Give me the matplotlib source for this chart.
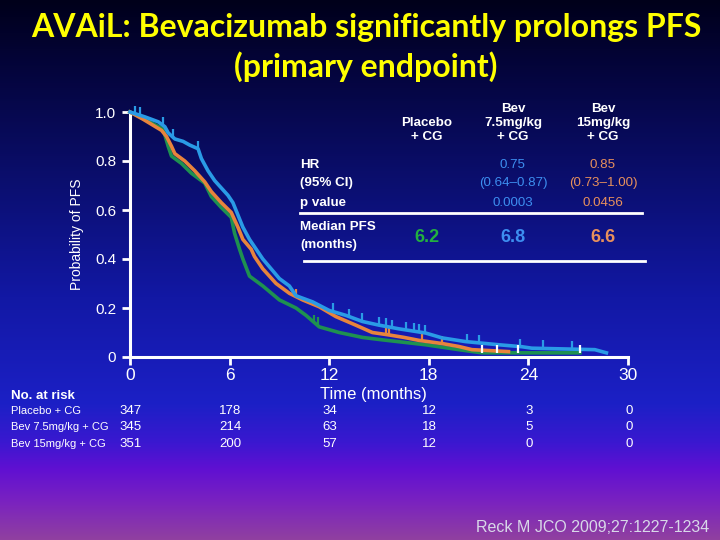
import matplotlib
matplotlib.use("Agg")
import matplotlib.pyplot as plt
import numpy as np
from matplotlib.colors import LinearSegmentedColormap
from matplotlib.transforms import blended_transform_factory
from matplotlib.path import Path

# KM curves (months, probability of PFS)
bev75_t = [0, 0.9, 1.7, 2.1, 2.3, 2.7, 3.2, 3.6, 4.1, 4.3, 4.7, 5.1, 5.5, 5.9, 6.2, 6.5,
           6.8, 7.2, 7.5, 8.0, 8.5, 9.0, 9.6, 10.0, 11.0, 12.0, 13.0, 14.0, 15.0, 16.2,
           17.8, 18.8, 20.2, 22.2, 23.6, 24.2, 28.0, 28.7]
bev75_s = [1.0, 0.98, 0.96, 0.94, 0.915, 0.89, 0.88, 0.865, 0.85, 0.81, 0.76, 0.72, 0.69,
           0.66, 0.63, 0.58, 0.53, 0.48, 0.45, 0.40, 0.36, 0.32, 0.29, 0.25, 0.225, 0.19,
           0.17, 0.145, 0.13, 0.115, 0.098, 0.078, 0.063, 0.05, 0.042, 0.036, 0.03, 0.017]

bev15_t = [0, 0.8, 1.9, 2.2, 2.5, 2.7, 3.3, 3.9, 4.5, 4.9, 5.5, 6.1, 6.5, 6.8, 7.3, 7.5,
           8.0, 8.8, 9.6, 10.4, 11.4, 12.4, 13.6, 14.6, 15.6, 16.5, 17.4, 18.8, 19.8,
           20.6, 22.8]
bev15_s = [1.0, 0.97, 0.925, 0.90, 0.86, 0.83, 0.80, 0.76, 0.715, 0.675, 0.63, 0.59, 0.53,
           0.48, 0.44, 0.41, 0.36, 0.30, 0.26, 0.233, 0.205, 0.165, 0.13, 0.10, 0.09,
           0.08, 0.068, 0.055, 0.043, 0.03, 0.022]

plac_t = [0, 0.6, 1.3, 2.0, 2.3, 2.5, 3.1, 3.7, 4.5, 4.9, 5.5, 6.1, 6.3, 6.6, 6.8, 7.2,
          8.0, 9.0, 10.0, 10.6, 11.4, 12.6, 14.0, 15.2, 17.8, 19.8, 21.2, 27.1]
plac_s = [1.0, 0.98, 0.955, 0.93, 0.86, 0.82, 0.79, 0.75, 0.71, 0.655, 0.61, 0.57, 0.505,
          0.44, 0.40, 0.33, 0.29, 0.233, 0.20, 0.17, 0.123, 0.10, 0.08, 0.07, 0.05, 0.03,
          0.017, 0.017]

# censored observations
bev75_cens = [0.3, 0.6, 2.0, 2.6, 4.1, 12.2, 13.2, 14.0, 15.0, 15.4, 15.8, 16.6, 17.1,
              17.4, 17.8, 20.3, 21.0, 23.5, 24.9, 26.6]
bev15_cens = [10.0, 15.4, 15.6, 17.6, 18.8]
plac_cens = [11.1, 11.3]
white_cens = [21.2, 22.1, 23.4, 27.1]

xticks = [0, 6, 12, 18, 24, 30]
yticks = [0, 0.2, 0.4, 0.6, 0.8, 1.0]
ytick_labels = ["0", "0.2", "0.4", "0.6", "0.8", "1.0"]

risk_rows = ["Placebo + CG", "Bev 7.5mg/kg + CG", "Bev 15mg/kg + CG"]
risk_plac = [347, 178, 34, 12, 3, 0]
risk_bev75 = [345, 214, 63, 18, 5, 0]
risk_bev15 = [351, 200, 57, 12, 0, 0]

col_heads = ["Placebo\n+ CG", "Bev\n7.5mg/kg\n+ CG", "Bev\n15mg/kg\n+ CG"]
hr_vals = ["", "0.75", "0.85"]
ci_vals = ["", "(0.64\u20130.87)", "(0.73\u20131.00)"]
p_vals = ["", "0.0003", "0.0456"]
median_pfs = ["6.2", "6.8", "6.6"]

c_green = "#1e9150"
c_blue = "#2a9be6"
c_orange = "#e8843c"
c_blue_txt = "#3d8ef0"
c_orange_txt = "#e8905c"
c_green_txt = "#22b040"

W, H = 720, 540
fig = plt.figure(figsize=(7.2, 5.4), dpi=100)

def fx(px):
    return px / W

def fy(py):
    return 1 - py / H

# background gradient
bg = fig.add_axes([0, 0, 1, 1], zorder=-10)
cmap = LinearSegmentedColormap.from_list("bg", [
    (0.0, "#00001a"), (0.12, "#04043a"), (0.35, "#0b0f72"), (0.55, "#1218a4"),
    (0.75, "#1c20c6"), (0.82, "#3a18d0"), (0.87, "#6010d2"), (0.93, "#7a22c0"),
    (1.0, "#9040a0")])
grad = np.linspace(0, 1, 256).reshape(-1, 1)
bg.imshow(grad, aspect="auto", cmap=cmap, extent=[0, 1, 0, 1], origin="upper")
bg.axis("off")

# title
fig.text(fx(366), fy(28), "AVAiL: Bevacizumab significantly prolongs PFS",
         color="#ffff00", fontsize=23, fontweight="bold", family="Lato",
         ha="center", va="center")
fig.text(fx(366), fy(67), "(primary endpoint)", color="#ffff00", fontsize=23,
         fontweight="bold", family="Lato", ha="center", va="center")

# main axes
ax = fig.add_axes([fx(130), fy(357), fx(628) - fx(130), fy(112) - fy(357)])
ax.set_facecolor("none")
ax.set_xlim(0, 30)
ax.set_ylim(0, 1)
for side in ["top", "right"]:
    ax.spines[side].set_visible(False)
for side in ["left", "bottom"]:
    ax.spines[side].set_color("white")
    ax.spines[side].set_linewidth(2.2)
ax.set_xticks(xticks)
ax.set_yticks(yticks)
ax.set_yticklabels(ytick_labels)
ax.tick_params(colors="white", width=2, length=6, direction="out")
ax.tick_params(axis="x", labelsize=12.5, pad=2)
ax.tick_params(axis="y", labelsize=11, pad=4)
for lab in ax.get_xticklabels() + ax.get_yticklabels():
    lab.set_family("Liberation Sans")
ax.set_ylabel("Probability of PFS", color="white", fontsize=10,
              family="Liberation Sans", labelpad=8)

up_tick = Path([(0, 0), (0, 1)], [Path.MOVETO, Path.LINETO])

def km(t, s, cens, color, z, cens_color=None, line=True):
    if line:
        ax.plot(t, s, color=color, lw=2.6, zorder=z, clip_on=False)
    if cens:
        cy = np.interp(cens, t, s)
        ax.plot(cens, cy, ls="none", marker=up_tick, markersize=12,
                markeredgewidth=1.6, color=cens_color or color, zorder=z,
                clip_on=False)

km(plac_t, plac_s, plac_cens, c_green, 3)
km(bev15_t, bev15_s, bev15_cens, c_orange, 4)
km(bev75_t, bev75_s, bev75_cens, c_blue, 5)
km(plac_t, plac_s, white_cens, c_green, 6, cens_color="white", line=False)

# x-axis title
fig.text(fx(373), fy(395), "Time (months)", color="white", fontsize=12,
         family="Liberation Sans", ha="center", va="center")

# table inside the plot
fs_tab = 9.6
col_x = [427, 513, 603]
for x, h in zip(col_x, col_heads):
    n = h.count("\n")
    yc = 123 if n == 2 else 130
    fig.text(fx(x), fy(yc), h, color="white", fontsize=fs_tab, fontweight="bold",
             family="Liberation Sans", ha="center", va="center", linespacing=1.2)

row_txt = [("HR", 165), ("(95% CI)", 183), ("p value", 203),
           ("Median PFS", 227), ("(months)", 245)]
for s, y in row_txt:
    fig.text(fx(300), fy(y), s, color="white", fontsize=fs_tab, fontweight="bold",
             family="Liberation Sans", ha="left", va="center")
fig.add_artist(plt.Line2D([fx(300), fx(642)], [fy(213), fy(213)], color="white", lw=2))
fig.add_artist(plt.Line2D([fx(304), fx(645)], [fy(261), fy(261)], color="white", lw=2))

txt_cols = ["white", c_blue_txt, c_orange_txt]
for i, x in enumerate(col_x):
    for y, vals in zip([165, 183, 203], [hr_vals, ci_vals, p_vals]):
        if vals[i]:
            fig.text(fx(x), fy(y), vals[i], color=txt_cols[i], fontsize=fs_tab,
                     family="Liberation Sans", ha="center", va="center")
med_cols = [c_green_txt, c_blue_txt, c_orange_txt]
for x, v, c in zip(col_x, median_pfs, med_cols):
    fig.text(fx(x), fy(238), v, color=c, fontsize=13, fontweight="bold",
             family="Liberation Sans", ha="center", va="center")

# number at risk
fig.text(fx(11), fy(396), "No. at risk", color="white", fontsize=9.5,
         fontweight="bold", family="Liberation Sans", ha="left", va="center")
tr = blended_transform_factory(ax.transData, fig.transFigure)
for y, lab, vals in zip([411, 427, 444], risk_rows, [risk_plac, risk_bev75, risk_bev15]):
    fig.text(fx(11), fy(y), lab, color="white", fontsize=8, family="Liberation Sans",
             ha="left", va="center")
    for t, v in zip(xticks, vals):
        ax.text(t + 0.05, fy(y), str(v), transform=tr, color="white", fontsize=9.5,
                family="Liberation Sans", ha="center", va="center")

fig.text(fx(709), fy(527), "Reck M JCO 2009;27:1227-1234", color="#d8d8e8",
         fontsize=11.5, family="Liberation Sans", ha="right", va="center")

fig.savefig("out.png", dpi=100)
